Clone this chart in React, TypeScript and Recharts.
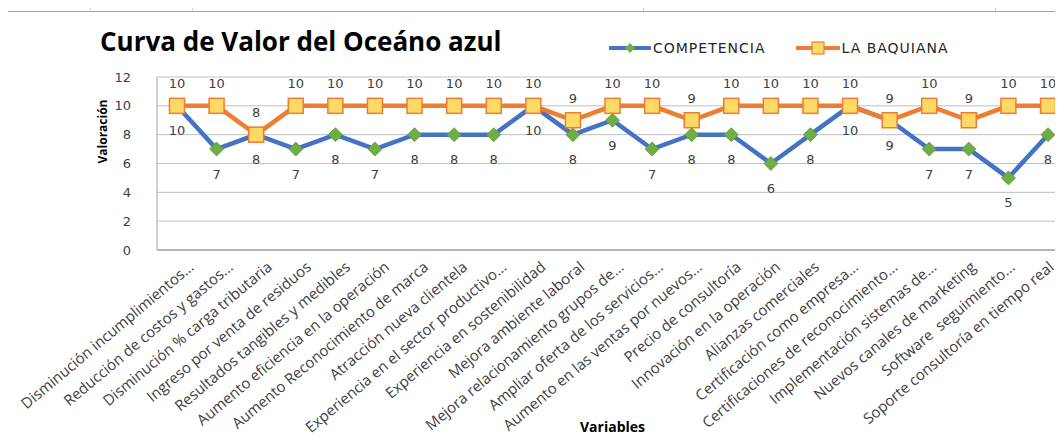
import React from 'react'
import { LineChart, Line, XAxis, YAxis, CartesianGrid, Legend, LabelList } from 'recharts'

// Curva de valor
const variables = [
  'Disminución incumplimientos...',
  'Reducción de costos y gastos...',
  'Disminución % carga tributaria',
  'Ingreso por venta de residuos',
  'Resultados tangibles y medibles',
  'Aumento eficiencia en la operación',
  'Aumento Reconocimiento de marca',
  'Atracción nueva clientela',
  'Experiencia en el sector productivo...',
  'Experiencia en sostenibilidad',
  'Mejora ambiente laboral',
  'Mejora relacionamiento grupos de...',
  'Ampliar oferta de los servicios...',
  'Aumento en las ventas por nuevos...',
  'Precio de consultoría',
  'Innovación en la operación',
  'Alianzas comerciales',
  'Certificación como empresa...',
  'Certificaciones de reconocimiento...',
  'Implementación sistemas de...',
  'Nuevos canales de marketing',
  'Software  seguimiento...',
  'Soporte consultoría en tiempo real'
]

const competencia = [10, 7, 8, 7, 8, 7, 8, 8, 8, 10, 8, 9, 7, 8, 8, 6, 8, 10, 9, 7, 7, 5, 8]
const laBaquiana = [10, 10, 8, 10, 10, 10, 10, 10, 10, 10, 9, 10, 10, 9, 10, 10, 10, 10, 9, 10, 9, 10, 10]

const yTicks = [0, 2, 4, 6, 8, 10, 12]

const data = variables.map((v, i) => ({
  variable: v,
  competencia: competencia[i],
  baquiana: laBaquiana[i]
}))

const BLUE = '#4472C4'
const ORANGE = '#ED7D31'
const GREEN = '#70AD47'
const YELLOW = '#FFD966'
const TEXT = '#404040'

const Diamond = (props: any) => {
  const { cx, cy } = props
  if (cx == null || cy == null) return null
  const s = 7
  return (
    <polygon
      points={`${cx},${cy - s} ${cx + s},${cy} ${cx},${cy + s} ${cx - s},${cy}`}
      fill={GREEN}
      stroke="#5E9A3A"
      strokeWidth={0.8}
    />
  )
}

const Square = (props: any) => {
  const { cx, cy } = props
  if (cx == null || cy == null) return null
  return <rect x={cx - 7.5} y={cy - 7.5} width={15} height={15} fill={YELLOW} stroke={ORANGE} strokeWidth={1.5} />
}

const XTick = (props: any) => {
  const { x, payload, index } = props
  // excel packs the rotated labels a little tighter than the points
  const ax = x + 14 - (index || 0) * 0.5
  const ay = 264
  return (
    <text
      x={ax}
      y={ay}
      transform={`rotate(-40, ${ax}, ${ay})`}
      textAnchor="end"
      dominantBaseline="central"
      fontSize={15}
      fontFamily="'Open Sans', sans-serif"
      fill={TEXT}
      style={{ whiteSpace: 'pre' }}
    >
      {payload.value}
    </text>
  )
}

const YTick = (props: any) => {
  const { y, payload } = props
  return (
    <text x={131} y={y} textAnchor="end" dominantBaseline="central" fontSize={13} fontFamily="'DejaVu Sans', sans-serif" fill={TEXT}>
      {payload.value}
    </text>
  )
}

const labelAbove = (props: any) => {
  const { x, y, value } = props
  return (
    <text x={x} y={y - 22} textAnchor="middle" dominantBaseline="central" fontSize={13} fontFamily="'DejaVu Sans', sans-serif" fill={TEXT}>
      {value}
    </text>
  )
}

const labelBelow = (props: any) => {
  const { x, y, value } = props
  return (
    <text x={x} y={y + 25} textAnchor="middle" dominantBaseline="central" fontSize={13} fontFamily="'DejaVu Sans', sans-serif" fill={TEXT}>
      {value}
    </text>
  )
}

const LegendContent = () => (
  <div style={{ display: 'flex', alignItems: 'center', fontFamily: "'DejaVu Sans', sans-serif", fontSize: 14, letterSpacing: 1, color: '#262626' }}>
    <svg width={42} height={16}>
      <line x1={1} y1={8} x2={41} y2={8} stroke={BLUE} strokeWidth={4} strokeLinecap="round" />
      <polygon points="21,3 26,8 21,13 16,8" fill={GREEN} />
    </svg>
    <span style={{ marginLeft: 2 }}>COMPETENCIA</span>
    <svg width={44} height={16} style={{ marginLeft: 30 }}>
      <line x1={1} y1={8} x2={43} y2={8} stroke={ORANGE} strokeWidth={4} strokeLinecap="round" />
      <rect x={16} y={2} width={12} height={12} fill={YELLOW} stroke={ORANGE} strokeWidth={1.2} />
    </svg>
    <span style={{ marginLeft: 2 }}>LA BAQUIANA</span>
  </div>
)

const cellCols = [90, 192, 643, 995]
const cellRows = [20, 68, 116, 164, 212, 260, 308, 356, 404]

export default function App() {
  return (
    <div style={{ position: 'relative', margin: -8, width: 1063, height: 441, overflow: 'hidden', background: '#fff' }}>
      {/* spreadsheet cell lines around the chart */}
      {cellCols.map((cx) => (
        <div key={'c' + cx} style={{ position: 'absolute', left: cx, top: 0, width: 1, height: 11, background: '#d9d9d9' }} />
      ))}
      {cellRows.map((ry) => (
        <div key={'r' + ry} style={{ position: 'absolute', left: 0, top: ry, width: 6, height: 1, background: '#d9d9d9' }} />
      ))}
      {/* chart area border */}
      <div style={{ position: 'absolute', left: 6, top: 11, width: 1100, height: 480, border: '1px solid #a6a6a6', borderRadius: 3 }} />
      <div
        style={{
          position: 'absolute',
          left: 100,
          top: 23,
          fontFamily: "'Open Sans', sans-serif",
          fontWeight: 700,
          fontSize: 26,
          lineHeight: 'normal',
          color: '#000',
          whiteSpace: 'nowrap'
        }}
      >
        Curva de Valor del Oceáno azul
      </div>
      <div style={{ position: 'absolute', left: 0, top: 0 }}>
        <LineChart width={1080} height={441} data={data} margin={{ top: 77, right: 12, bottom: 0, left: 0 }}>
          <CartesianGrid horizontal vertical={false} stroke="#bfbfbf" strokeWidth={1} />
          <XAxis
            dataKey="variable"
            interval={0}
            height={191}
            padding={{ left: 20, right: 20 }}
            tick={<XTick />}
            tickLine={false}
            axisLine={{ stroke: '#8c8c8c', strokeWidth: 1 }}
            label={{ value: 'Variables', position: 'insideBottom', offset: 9, fontFamily: "'Open Sans', sans-serif", fontWeight: 700, fontSize: 14, fill: '#000' }}
          />
          <YAxis
            domain={[0, 12]}
            ticks={yTicks}
            width={157}
            tick={<YTick />}
            tickLine={false}
            axisLine={{ stroke: '#a6a6a6', strokeWidth: 1 }}
            label={{ value: 'Valoración', angle: -90, position: 'insideLeft', offset: 103, fontFamily: "'Open Sans', sans-serif", fontWeight: 700, fontSize: 12, fill: '#000' }}
          />
          <Legend
            layout="horizontal"
            verticalAlign="middle"
            align="center"
            content={<LegendContent />}
            wrapperStyle={{ position: 'absolute', top: 40, left: 609, width: 420 }}
          />
          <Line
            type="linear"
            dataKey="competencia"
            name="COMPETENCIA"
            stroke={BLUE}
            strokeWidth={4.5}
            dot={<Diamond />}
            activeDot={false}
            isAnimationActive={false}
          >
            <LabelList dataKey="competencia" content={labelBelow} />
          </Line>
          <Line
            type="linear"
            dataKey="baquiana"
            name="LA BAQUIANA"
            stroke={ORANGE}
            strokeWidth={4.5}
            dot={<Square />}
            activeDot={false}
            isAnimationActive={false}
          >
            <LabelList dataKey="baquiana" content={labelAbove} />
          </Line>
        </LineChart>
      </div>
    </div>
  )
}
